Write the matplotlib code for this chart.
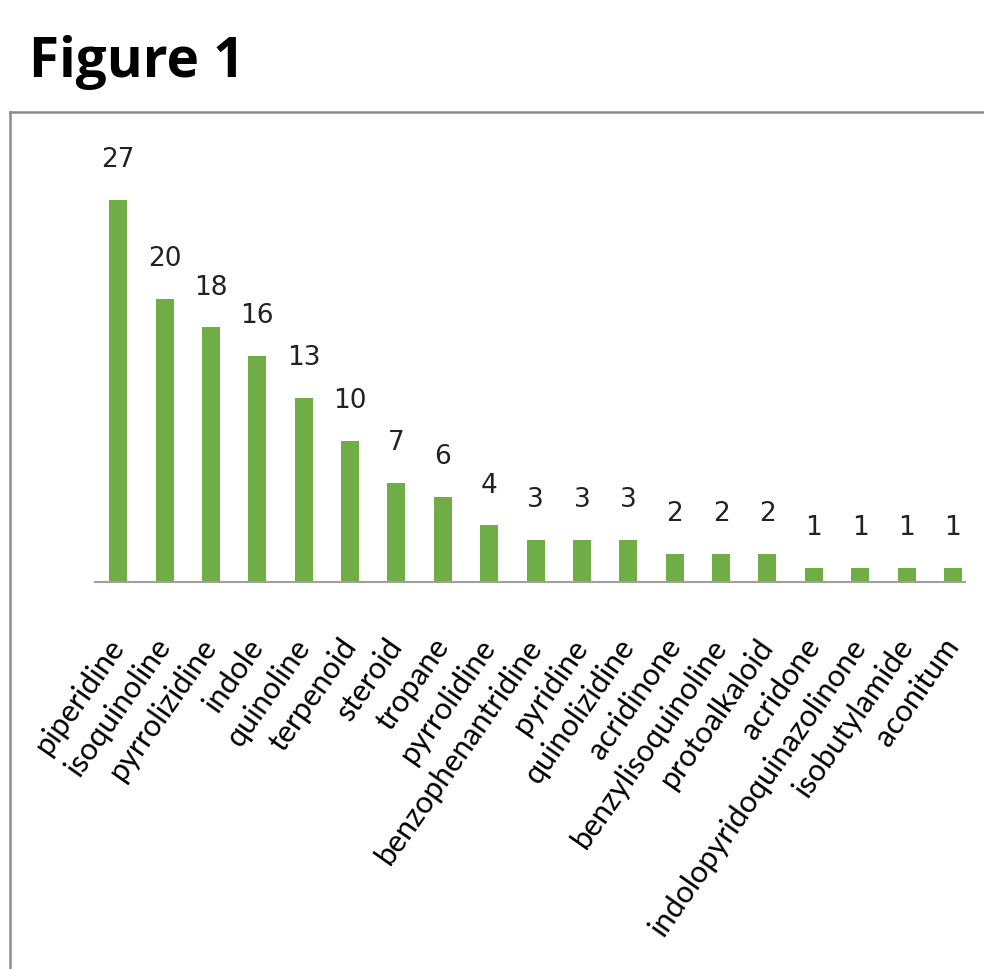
import matplotlib
matplotlib.use("Agg")
import matplotlib.pyplot as plt
from matplotlib.lines import Line2D

categories = ["piperidine", "isoquinoline", "pyrrolizidine", "indole", "quinoline",
              "terpenoid", "steroid", "tropane", "pyrrolidine", "benzophenantridine",
              "pyridine", "quinolizidine", "acridinone", "benzylisoquinoline",
              "protoalkaloid", "acridone", "indolopyridoquinazolinone",
              "isobutylamide", "aconitum"]
values = [27, 20, 18, 16, 13, 10, 7, 6, 4, 3, 3, 3, 2, 2, 2, 1, 1, 1, 1]

W, H = 984, 970
fig = plt.figure(figsize=(W / 100, H / 100), dpi=100)

# Title
fig.text(29 / W, 1 - 62 / H, "Figure 1", fontsize=39.5, fontweight="bold",
         family="Open Sans", va="center", ha="left")

# Frame
frame_c = "#8c8c8c"
fig.add_artist(Line2D([10 / W, 1.0], [1 - 113 / H, 1 - 113 / H], color=frame_c, lw=1.8,
                      transform=fig.transFigure))
fig.add_artist(Line2D([10 / W, 10 / W], [1 - 113 / H, 0.0], color=frame_c, lw=1.8,
                      transform=fig.transFigure))

# Axes
px_per_unit = 14.15
base_y = 583
ax = fig.add_axes([95 / W, (H - base_y) / H, 870 / W, 30 * px_per_unit / H])
x = list(range(len(categories)))
ax.bar(x, values, width=0.39, color="#70AD47", zorder=2)
ax.set_xlim(-0.5, 18.26)
ax.set_ylim(0, 30)
for s in ["top", "right", "left"]:
    ax.spines[s].set_visible(False)
ax.spines["bottom"].set_color("#a0a0a0")
ax.spines["bottom"].set_linewidth(1.5)
ax.set_yticks([])
ax.set_xticks(x)
ax.set_xticklabels(categories, rotation=55, ha="right", va="center",
                   rotation_mode="anchor", fontsize=22, family="Lato")
ax.tick_params(axis="x", length=0, pad=42)

for xi, v in zip(x, values):
    ax.annotate(str(v), (xi, v), xytext=(0, 20), textcoords="offset points",
                ha="center", va="bottom", fontsize=19,
                family=["DejaVu Sans Condensed", "DejaVu Sans"], color="#222222")

fig.savefig("out.png", dpi=100)
